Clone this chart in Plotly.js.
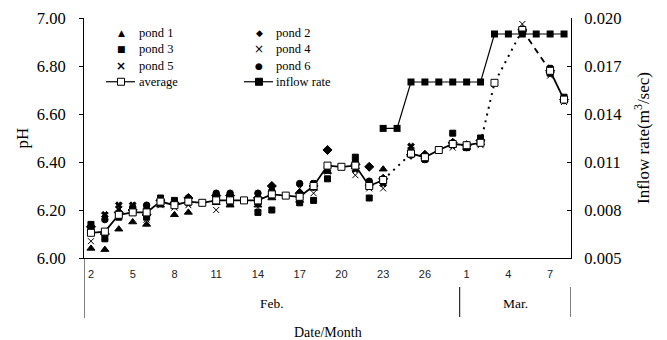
<!DOCTYPE html>
<html>
<head>
<meta charset="utf-8">
<script src="https://cdn.plot.ly/plotly-3.0.1.min.js"></script>
<style>html,body{margin:0;padding:0;background:#fff;}#chart{width:667px;height:340px;}</style>
</head>
<body>
<div id="chart"></div>
<script>
// ---- data (Feb 2 .. Mar 8) ----
const months = ['Feb','Feb','Feb','Feb','Feb','Feb','Feb','Feb','Feb','Feb','Feb','Feb','Feb','Feb','Feb','Feb','Feb','Feb','Feb','Feb','Feb','Feb','Feb','Feb','Feb','Feb','Feb','Mar','Mar','Mar','Mar','Mar','Mar','Mar','Mar'];
const days = [2,3,4,5,6,7,8,9,10,11,12,13,14,15,16,17,18,19,20,21,22,23,24,25,26,27,28,1,2,3,4,5,6,7,8];
const tickLabels = ['2','5','8','11','14','17','20','23','26','1','4','7'];
const tickMonths = ['Feb','Feb','Feb','Feb','Feb','Feb','Feb','Feb','Feb','Mar','Mar','Mar'];
const monthNames = ['Feb.','Mar.'];

const pond1 = [6.04,6.035,6.12,6.15,6.14,6.22,6.18,6.19,null,6.23,6.22,null,6.22,6.25,null,6.24,6.29,6.36,null,6.38,6.31,6.37,null,6.43,6.42,null,6.47,6.46,6.48,null,null,6.95,null,6.78,6.66];
const pond2 = [6.13,6.10,6.19,6.20,6.18,6.24,6.23,6.25,null,6.26,6.26,null,6.25,6.30,null,6.27,6.30,6.45,null,6.39,6.38,6.33,null,6.43,6.43,null,6.48,6.47,6.49,null,null,6.95,null,6.78,6.66];
const pond3 = [6.14,6.08,6.17,6.19,6.17,6.25,6.24,6.24,null,6.24,6.23,null,6.19,6.20,null,6.23,6.24,6.33,null,6.42,6.25,6.32,null,6.44,6.42,null,6.52,6.46,6.50,null,null,6.95,null,6.77,6.67];
const pond4 = [6.07,6.09,6.20,6.21,6.16,6.22,6.21,6.22,null,6.20,6.23,null,6.21,6.26,null,6.29,6.27,6.36,null,6.345,6.29,6.29,null,6.43,6.42,null,6.46,6.46,6.47,null,null,6.975,null,6.76,6.65];
const pond5 = [6.11,6.18,6.22,6.22,6.20,6.23,6.22,6.23,null,6.24,6.24,null,6.23,6.27,null,6.26,6.31,6.37,null,6.37,6.30,6.31,null,6.465,6.41,null,6.47,6.47,6.48,null,null,6.95,null,6.79,6.66];
const pond6 = [6.12,6.16,6.18,6.21,6.22,6.24,6.23,6.25,null,6.27,6.27,null,6.27,6.28,null,6.31,6.31,6.38,null,6.40,6.32,6.32,null,6.43,6.41,null,6.48,6.46,6.49,null,null,6.95,null,6.79,6.66];
const average = [6.105,6.11,6.18,6.19,6.19,6.235,6.22,6.235,6.23,6.24,6.24,6.24,6.24,6.265,6.26,6.255,6.30,6.385,6.38,6.385,6.30,6.325,null,6.435,6.42,6.45,6.475,6.47,6.48,6.73,null,6.95,null,6.78,6.66];
const inflow = [null,null,null,null,null,null,null,null,null,null,null,null,null,null,null,null,null,null,null,null,null,0.0131,0.0131,0.016,0.016,0.016,0.016,0.016,0.016,0.019,0.019,0.019,0.019,0.019,0.019];
// segments of the average drawn dotted / dashed (index groups)
const dottedGroups = [[21,23],[28,29,31]];
const dashedGroups = [[31,33]];
const solidBreaks = [22,29,30,31,32]; // indices excluded from the solid average line

// ---- build ----
const idx = days.map((d,i)=>i);
const tickIdx = tickLabels.map((t,k)=>days.findIndex((d,i)=>String(d)===t && months[i]===tickMonths[k]));
const bounds = [];
for (let i=0;i<=days.length;i++) bounds.push(i-0.5);
const marSep = months.indexOf('Mar') - 0.5;
const xmin = -0.5, xmax = days.length-0.5;

function seg(groups){
  const xs=[],ys=[];
  groups.forEach((g,gi)=>{ if(gi>0){xs.push(null);ys.push(null);} g.forEach(i=>{xs.push(i);ys.push(average[i]);}); });
  return {x:xs,y:ys};
}
const solidY = average.map((v,i)=>solidBreaks.includes(i)?null:v);
const dot = seg(dottedGroups), dsh = seg(dashedGroups);

const ponds = [
  {name:'pond 1', y:pond1, symbol:'triangle-up', size:7},
  {name:'pond 2', y:pond2, symbol:'diamond', size:7},
  {name:'pond 3', y:pond3, symbol:'square', size:6},
  {name:'pond 4', y:pond4, symbol:'x-thin-open', size:6},
  {name:'pond 5', y:pond5, symbol:'x', size:6},
  {name:'pond 6', y:pond6, symbol:'circle', size:6.5}
];
const traces = ponds.map(p=>({
  type:'scatter', mode:'markers', name:p.name, x:idx, y:p.y,
  marker:{symbol:p.symbol, size:p.size, color:'#000', line:{color:'#000', width:1}},
  cliponaxis:false
}));
traces.push({type:'scatter', mode:'lines', x:dot.x, y:dot.y, line:{color:'#000', width:2, dash:'2px,5px'}, connectgaps:false, hoverinfo:'skip'});
traces.push({type:'scatter', mode:'lines', x:dsh.x, y:dsh.y, line:{color:'#000', width:1.8, dash:'6px,5px'}, connectgaps:false, hoverinfo:'skip'});
traces.push({type:'scatter', mode:'lines', x:idx, y:solidY, line:{color:'#000', width:1.8}, connectgaps:false, hoverinfo:'skip'});
traces.push({type:'scatter', mode:'markers', name:'average', x:idx, y:average,
  marker:{symbol:'square', size:7, color:'#fff', line:{color:'#000', width:1}}});
traces.push({type:'scatter', mode:'lines+markers', name:'inflow rate', x:idx, y:inflow, yaxis:'y2',
  line:{color:'#000', width:1.2}, marker:{symbol:'square', size:7, color:'#000'}, connectgaps:false, cliponaxis:false});

// ---- manual legend (pixel -> paper helpers) ----
const L=84, R=571, T=18, B=258;
const px = v => (v-L)/(R-L);
const py = v => (B-v)/(B-T);
const legCol1 = ['pond 1','pond 3','pond 5','average'];
const legCol2 = ['pond 2','pond 4','pond 6','inflow rate'];
const glyph = {'pond 1':'▲','pond 2':'◆','pond 3':'■','pond 4':'×','pond 5':'<b>×</b>','pond 6':'●'};
const legFont = 12.5, rowH = legFont*1.3, row0 = 33;
const annotations = [];
const shapes = [];
function legendCol(items, symX, textX){
  annotations.push({xref:'paper', yref:'paper', x:px(textX), y:py(row0 - rowH/2), xanchor:'left', yanchor:'top', align:'left',
    showarrow:false, borderpad:0, text:items.join('<br>'), font:{family:'Liberation Serif', size:legFont, color:'#000'}});
  items.forEach((name,r)=>{
    const yy = row0 + r*rowH;
    if (glyph[name]) {
      const sz = (name==='pond 4'||name==='pond 5') ? 12 : 9;
      annotations.push({xref:'paper', yref:'paper', x:px(symX), y:py(yy), xanchor:'center', yanchor:'middle', showarrow:false,
        borderpad:0, text:glyph[name], font:{family:'DejaVu Sans', size:sz, color:'#000'}});
    } else {
      shapes.push({type:'line', xref:'paper', yref:'paper', x0:px(symX-15), x1:px(symX+14), y0:py(yy), y1:py(yy), line:{color:'#000', width:1.2}});
      const filled = name==='inflow rate';
      shapes.push({type:'rect', xref:'paper', yref:'paper', x0:px(symX-3.5), x1:px(symX+3.5), y0:py(yy+3.5), y1:py(yy-3.5),
        fillcolor: filled?'#000':'#fff', line:{color:'#000', width:1}});
    }
  });
}
legendCol(legCol1, 121, 138);
legendCol(legCol2, 259, 275);

// month group labels and separators
annotations.push({xref:'x', yref:'paper', x:(xmin+marSep)/2, y:py(303), yanchor:'middle', showarrow:false, text:monthNames[0], font:{family:'Liberation Serif', size:13.5, color:'#000'}});
annotations.push({xref:'x', yref:'paper', x:(marSep+xmax)/2, y:py(303), yanchor:'middle', showarrow:false, text:monthNames[1], font:{family:'Liberation Serif', size:13.5, color:'#000'}});
annotations.push({xref:'paper', yref:'paper', x:px((L+R)/2), y:py(332), yanchor:'middle', showarrow:false, text:'Date/Month', font:{family:'Liberation Serif', size:14, color:'#000'}});
shapes.push({type:'line', xref:'x', yref:'paper', x0:xmin, x1:xmin, y0:py(258), y1:py(318), line:{color:'#000', width:1}});
shapes.push({type:'line', xref:'x', yref:'paper', x0:marSep, x1:marSep, y0:py(287), y1:py(317), line:{color:'#000', width:1}});
shapes.push({type:'line', xref:'x', yref:'paper', x0:xmax, x1:xmax, y0:py(287), y1:py(317), line:{color:'#000', width:1}});

const layout = {
  width:667, height:340, margin:{l:84, r:96, t:18, b:82},
  paper_bgcolor:'#fff', plot_bgcolor:'#fff', showlegend:false,
  font:{family:'Liberation Serif', color:'#000'},
  xaxis:{range:[xmin,xmax], tickvals:tickIdx, ticktext:tickLabels, ticks:'outside', ticklen:6, tickcolor:'rgba(0,0,0,0)',
    tickfont:{family:'Liberation Sans', size:11, color:'#222'}, showline:true, linecolor:'#000', linewidth:1,
    showgrid:false, zeroline:false},
  xaxis2:{overlaying:'x', anchor:'y', side:'bottom', range:[xmin,xmax], tickvals:bounds, ticks:'outside', ticklen:6,
    tickcolor:'#000', tickwidth:1, showticklabels:false, showgrid:false, zeroline:false, showline:false},
  yaxis:{range:[6,7], tickvals:[6,6.2,6.4,6.6,6.8,7], tickformat:'.2f', ticks:'outside', ticklen:4, tickcolor:'#000',
    showline:true, linecolor:'#000', showgrid:false, zeroline:false, ticklabelstandoff:10,
    tickfont:{family:'Liberation Serif', size:16.5, color:'#000'},
    title:{text:'pH', font:{family:'Liberation Serif', size:17, color:'#000'}, standoff:3}},
  yaxis2:{overlaying:'y', anchor:'x', side:'right', range:[0.005,0.020], tickvals:[0.005,0.008,0.011,0.014,0.017,0.020],
    tickformat:'.3f', ticks:'inside', ticklen:4, tickcolor:'#000', showline:true, linecolor:'#000', showgrid:false, zeroline:false,
    ticklabelstandoff:9, tickfont:{family:'Liberation Serif', size:16.5, color:'#000'},
    title:{text:'Inflow rate(m<sup>3</sup>/sec)', font:{family:'Liberation Serif', size:17, color:'#000'}, standoff:16}},
  annotations:annotations, shapes:shapes
};
Plotly.newPlot('chart', traces, layout, {displayModeBar:false, staticPlot:true});
</script>
</body>
</html>
